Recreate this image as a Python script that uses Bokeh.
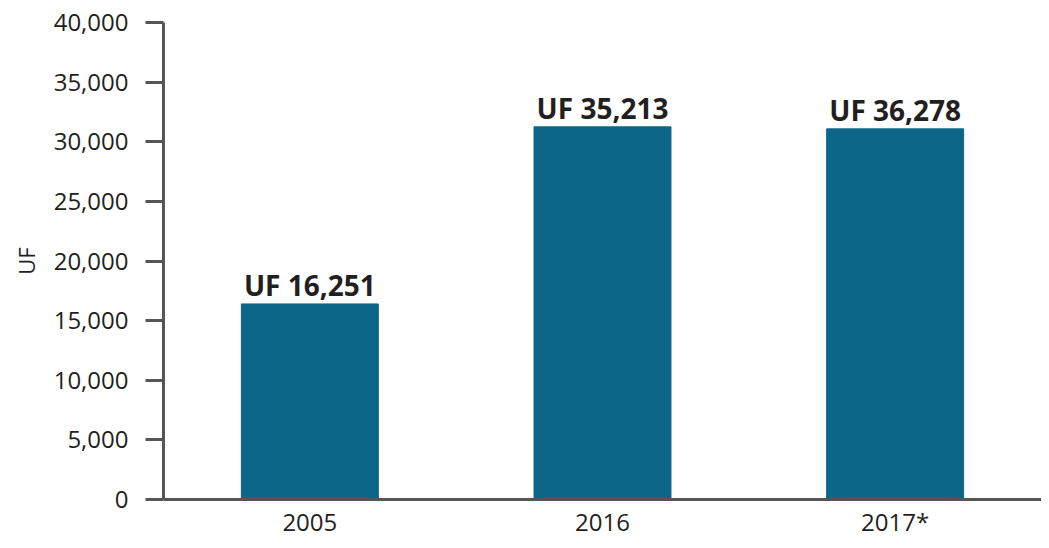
from bokeh.plotting import figure
from bokeh.models import ColumnDataSource, Range1d, FactorRange, NumeralTickFormatter, FixedTicker
from bokeh.core.properties import value
from bokeh.embed import file_html
from bokeh.resources import INLINE

years = ["2005", "2016", "2017*"]
bar_values = [16400, 31250, 31080]
bar_labels = ["UF 16,251", "UF 35,213", "UF 36,278"]
y_ticks = [0, 5000, 10000, 15000, 20000, 25000, 30000, 35000, 40000]

BAR = "#0b6688"
TXT = "#231f20"
AX = "#555555"
FONT = "Open Sans"

src = ColumnDataSource(dict(x=years, top=bar_values, label=bar_labels))

p = figure(width=1041, height=540, x_range=FactorRange(*years, range_padding=0),
           y_range=Range1d(0, 40000), output_backend="svg", toolbar_location=None,
           min_border_left=163, min_border_right=0, min_border_top=22, min_border_bottom=40)

p.vbar(x="x", top="top", width=0.468, source=src, color=BAR)
p.text(x="x", y="top", text="label", source=src, text_align="center",
       text_baseline="alphabetic", y_offset=-19, text_font=value(FONT),
       text_font_style="bold", text_font_size="28px", text_color=TXT)

p.xgrid.visible = False
p.ygrid.visible = False
p.outline_line_color = None

ya = p.yaxis[0]
ya.ticker = FixedTicker(ticks=y_ticks)
ya.formatter = NumeralTickFormatter(format="0,0")
ya.axis_label = "UF"
ya.axis_label_text_font = FONT
ya.axis_label_text_font_style = "normal"
ya.axis_label_text_font_size = "22px"
ya.axis_label_text_color = TXT
ya.axis_label_standoff = 10
ya.major_label_text_font = FONT
ya.major_label_text_font_size = "24px"
ya.major_label_text_color = TXT
ya.major_label_standoff = 17
ya.major_tick_out = 18
ya.major_tick_in = 0
ya.minor_tick_out = 0
ya.minor_tick_in = 0
ya.axis_line_color = AX
ya.axis_line_width = 3
ya.major_tick_line_color = AX
ya.major_tick_line_width = 3

xa = p.xaxis[0]
xa.major_label_text_font = FONT
xa.major_label_text_font_size = "24px"
xa.major_label_text_color = TXT
xa.major_label_standoff = 5
xa.major_tick_out = 0
xa.major_tick_in = 0
xa.axis_line_color = AX
xa.axis_line_width = 3

open("out.html", "w").write(file_html(p, INLINE))
